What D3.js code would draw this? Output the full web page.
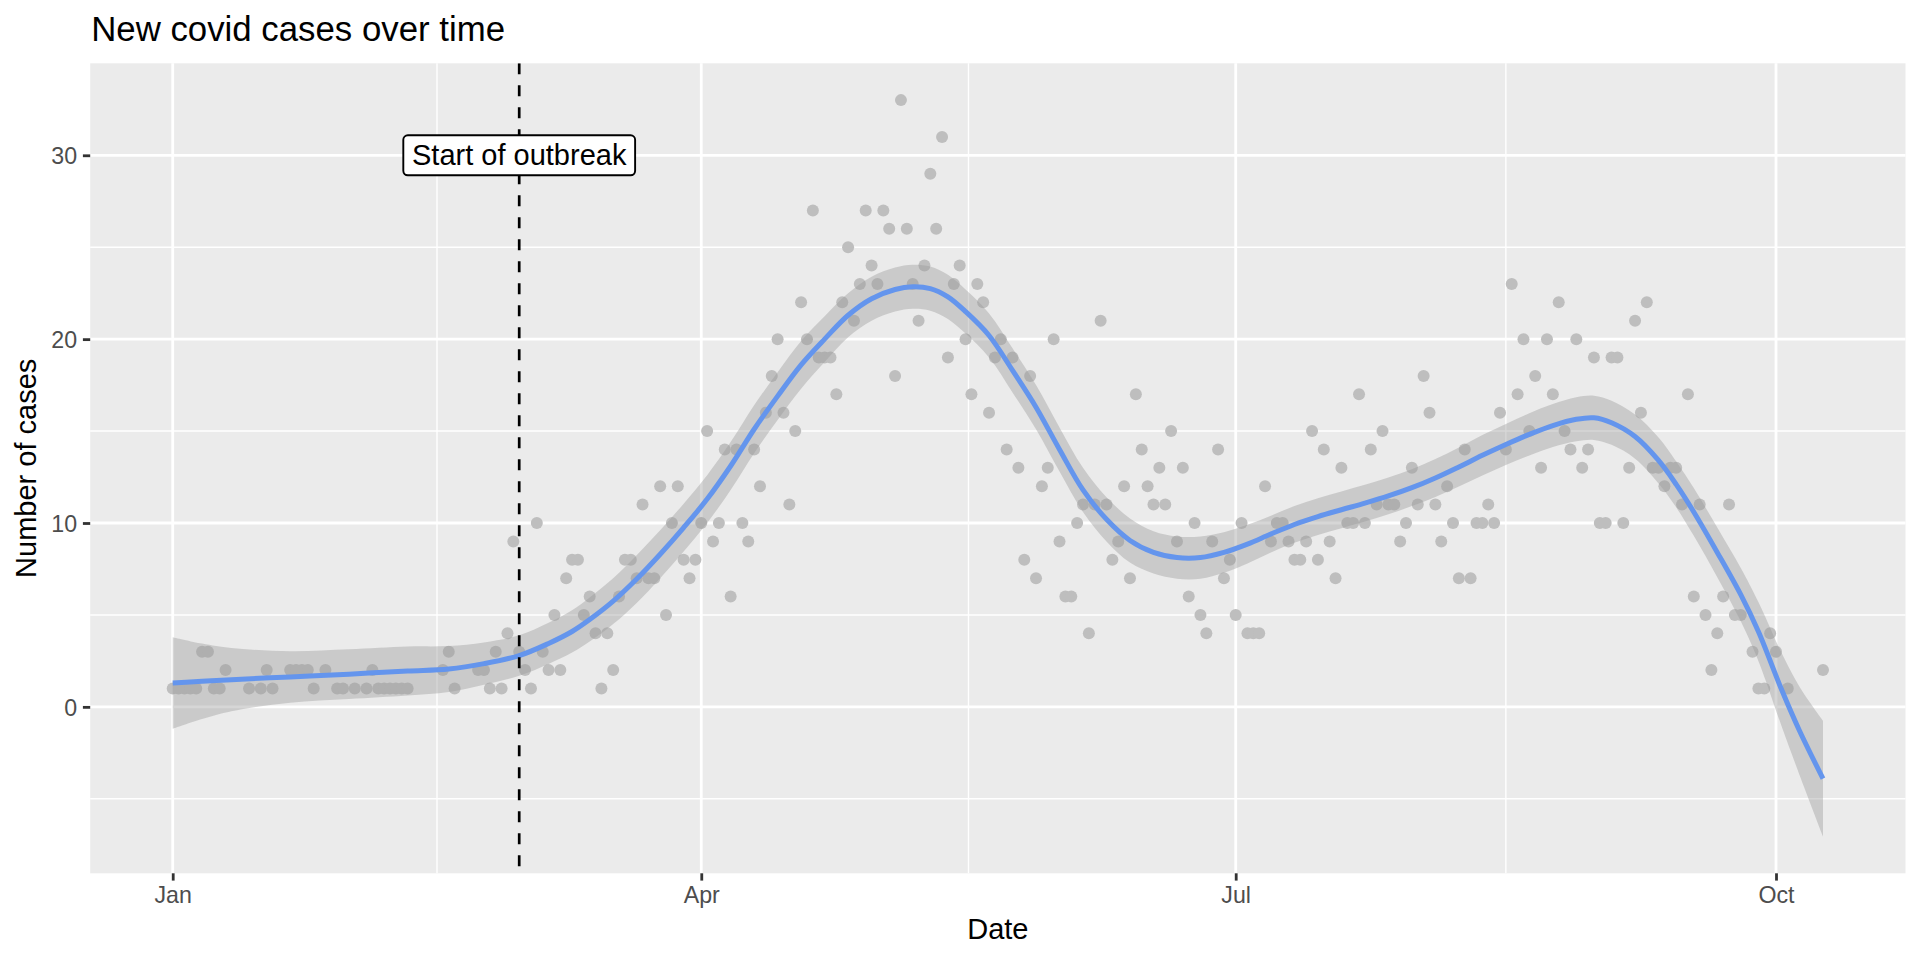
<!DOCTYPE html>
<html><head><meta charset="utf-8">
<script src="https://cdn.jsdelivr.net/npm/d3@7"></script>
<style>
body{margin:0;background:#fff;}
svg{display:block;font-family:"Liberation Sans",Arial,Helvetica,sans-serif;}
</style></head><body><svg id="chart" width="1920" height="960"></svg>
<script>
// ---------------- data ----------------
const startDate = "2021-01-01";
const dayOffsets = [0,1,2,3,4,5,6,7,8,9,13,15,16,17,20,21,22,23,24,26,28,29,31,33,34,35,36,37,38,39,40,46,47,48,
52,53,54,55,56,57,58,59,60,61,62,63,64,65,66,67,68,69,70,71,72,73,74,75,76,77,78,79,80,81,82,83,84,85,86,87,88,89,90,91,92,93,94,95,96,97,98,
99,100,101,102,103,104,105,106,107,108,109,110,111,112,113,114,115,116,117,118,119,120,121,122,123,124,125,126,127,128,129,130,131,132,133,134,135,136,137,138,139,140,141,
142,143,144,145,146,147,148,149,150,151,152,153,154,155,156,157,158,159,160,161,162,163,164,165,166,167,168,169,170,171,172,173,174,175,176,177,178,179,180,181,182,
183,184,185,186,187,188,189,190,191,192,193,194,195,196,197,198,199,200,201,202,203,204,205,206,207,208,209,210,211,212,213,214,215,216,217,218,219,220,221,222,
223,224,225,226,227,228,229,230,231,232,233,234,235,236,237,238,239,240,241,242,243,244,245,246,247,248,249,250,251,252,253,254,255,256,257,258,259,260,261,262,263,264,
265,266,267,269,270,271,272,273,275,281];
const cases = [1,1,1,1,1,3,3,1,1,2,1,1,2,1,2,2,2,2,1,2,1,1,1,1,2,1,1,1,1,1,1,2,3,1,
2,2,1,3,1,4,9,3,2,1,10,3,2,5,2,7,8,8,5,6,4,1,4,2,6,8,8,7,11,7,7,12,5,10,12,8,7,8,10,15,9,10,14,6,14,10,9,
14,12,16,18,20,16,11,15,22,20,27,19,19,19,17,22,25,21,23,27,24,23,27,26,18,33,26,23,21,24,29,26,31,19,23,24,20,17,23,22,16,19,20,
14,19,13,8,18,7,12,13,20,9,6,6,10,11,4,11,21,11,8,9,12,7,17,14,12,11,13,11,15,9,13,6,10,5,4,9,14,7,8,5,10,
4,4,4,12,9,10,10,9,8,8,9,15,8,14,9,7,13,10,10,17,10,14,11,15,11,11,9,10,13,11,18,16,11,9,12,10,7,14,7,10,
10,11,10,16,14,23,17,20,15,18,13,20,17,22,15,14,20,13,14,19,10,10,19,19,10,13,21,16,22,13,13,12,13,13,11,17,6,11,5,2,4,6,
11,5,5,3,1,1,4,3,1,2];

// loess fit: day offset, fitted value, half-width of the confidence band
const smoothDays = [0,5,10,20,30,40,47,53,59,64,68,71,75,79,83,87,91,95,99,103,107,111,115,119,123,126,129,132,135,139,143,147,151,155,159,163,167,171,175,179,183,187,191,195,199,203,207,211,215,219,223,227,231,235,239,242,245,249,253,256,259,263,267,270,274,277,281];
const smoothFit = [1.30,1.39,1.48,1.63,1.78,1.95,2.06,2.35,2.79,3.45,4.1,4.75,5.75,6.95,8.3,9.75,11.3,13.1,15.1,16.9,18.6,20.0,21.3,22.2,22.7,22.85,22.75,22.3,21.5,20.2,18.3,16.3,14.0,11.8,10.2,9.05,8.4,8.12,8.12,8.4,8.85,9.4,9.92,10.35,10.72,11.08,11.47,11.92,12.45,13.05,13.68,14.27,14.82,15.3,15.64,15.72,15.45,14.7,13.4,12.1,10.6,8.4,6.1,4.1,0.9,-1.3,-3.9];
const smoothHalf = [2.49,2.05,1.72,1.4,1.35,1.33,1.25,1.15,1.1,1.12,1.15,1.2,1.25,1.3,1.3,1.3,1.3,1.3,1.3,1.3,1.3,1.25,1.2,1.2,1.2,1.2,1.2,1.2,1.2,1.2,1.2,1.2,1.2,1.2,1.2,1.2,1.15,1.15,1.15,1.1,1.05,1.0,1.0,1.0,1.0,1.0,1.0,1.0,1.03,1.06,1.1,1.12,1.15,1.17,1.2,1.2,1.2,1.2,1.25,1.25,1.3,1.35,1.45,1.6,2.0,2.4,3.15];

const xTickDates = ["2021-01-01","2021-04-01","2021-07-01","2021-10-01"];
const xTickLabels = ["Jan","Apr","Jul","Oct"];
const xMinorDates = ["2021-02-15","2021-05-16T12:00","2021-08-16"];
const yTicks = [0,10,20,30];
const yMinor = [-5,5,15,25];
const outbreakDate = "2021-03-01";
const outbreakLabel = "Start of outbreak";
const outbreakLabelValue = 30;
const titleText = "New covid cases over time";
const xTitle = "Date";
const yTitle = "Number of cases";

// ---------------- layout ----------------
const W = 1920, H = 960;
const panel = {left: 90.2, right: 1905.5, top: 63.3, bottom: 873.3};
const parseD = s => s.includes("T") ? d3.utcParse("%Y-%m-%dT%H:%M")(s) : d3.utcParse("%Y-%m-%d")(s);
const t0 = parseD(startDate);
const pts = dayOffsets.map((d,i) => ({date: d3.utcDay.offset(t0, d), v: cases[i]}));
const sm = smoothDays.map((d,i) => ({date: d3.utcDay.offset(t0, d), fit: smoothFit[i], lo: smoothFit[i]-smoothHalf[i], hi: smoothFit[i]+smoothHalf[i]}));

const dMin = d3.min(pts, p => p.date), dMax = d3.max(pts, p => p.date);
const span = dMax - dMin;
const x = d3.scaleUtc()
  .domain([new Date(+dMin - 0.05*span), new Date(+dMax + 0.05*span)])
  .range([panel.left, panel.right]);
const yLo = Math.min(d3.min(pts, p => p.v), d3.min(sm, s => s.lo));
const yHi = Math.max(d3.max(pts, p => p.v), d3.max(sm, s => s.hi));
const yr = yHi - yLo;
const y = d3.scaleLinear().domain([yLo - 0.05*yr, yHi + 0.05*yr]).range([panel.bottom, panel.top]);

const svg = d3.select("#chart");
svg.append("rect").attr("width", W).attr("height", H).attr("fill", "#fff");

// panel
svg.append("rect").attr("x", panel.left).attr("y", panel.top)
  .attr("width", panel.right - panel.left).attr("height", panel.bottom - panel.top)
  .attr("fill", "#EBEBEB");

const grid = svg.append("g");
grid.selectAll(".ymin").data(yMinor).join("line")
  .attr("x1", panel.left).attr("x2", panel.right)
  .attr("y1", d => y(d)).attr("y2", d => y(d))
  .attr("stroke", "#fff").attr("stroke-width", 1.4);
grid.selectAll(".xmin").data(xMinorDates.map(parseD)).join("line")
  .attr("y1", panel.top).attr("y2", panel.bottom)
  .attr("x1", d => x(d)).attr("x2", d => x(d))
  .attr("stroke", "#fff").attr("stroke-width", 1.4);
grid.selectAll(".ymaj").data(yTicks).join("line")
  .attr("x1", panel.left).attr("x2", panel.right)
  .attr("y1", d => y(d)).attr("y2", d => y(d))
  .attr("stroke", "#fff").attr("stroke-width", 2.8);
grid.selectAll(".xmaj").data(xTickDates.map(parseD)).join("line")
  .attr("y1", panel.top).attr("y2", panel.bottom)
  .attr("x1", d => x(d)).attr("x2", d => x(d))
  .attr("stroke", "#fff").attr("stroke-width", 2.8);

// clip to panel
svg.append("clipPath").attr("id", "clip").append("rect")
  .attr("x", panel.left).attr("y", panel.top)
  .attr("width", panel.right - panel.left).attr("height", panel.bottom - panel.top);
const plot = svg.append("g").attr("clip-path", "url(#clip)");

// points
plot.selectAll("circle").data(pts).join("circle")
  .attr("cx", p => x(p.date)).attr("cy", p => y(p.v)).attr("r", 6)
  .attr("fill", "#BEBEBE");

// ribbon + smooth line
const curve = d3.curveCatmullRom.alpha(0.5);
plot.append("path").datum(sm)
  .attr("d", d3.area().x(s => x(s.date)).y0(s => y(s.lo)).y1(s => y(s.hi)).curve(curve))
  .attr("fill", "#999999").attr("fill-opacity", 0.4);
plot.append("path").datum(sm)
  .attr("d", d3.line().x(s => x(s.date)).y(s => y(s.fit)).curve(curve))
  .attr("fill", "none").attr("stroke", "#6495ED").attr("stroke-width", 5);

// vline
const xo = x(parseD(outbreakDate));
plot.append("line").attr("x1", xo).attr("x2", xo).attr("y1", panel.top).attr("y2", panel.bottom)
  .attr("stroke", "#000").attr("stroke-width", 2.7).attr("stroke-dasharray", "11,11");

// label
const lab = svg.append("g");
const lt = lab.append("text").attr("x", xo).attr("y", y(outbreakLabelValue))
  .attr("text-anchor", "middle").attr("dy", "0.35em")
  .attr("font-size", 29).attr("fill", "#000").text(outbreakLabel);
const tw = lt.node().getComputedTextLength();
const pad = 8.7;
lab.insert("rect", "text")
  .attr("x", xo - tw/2 - pad).attr("y", y(outbreakLabelValue) - 20)
  .attr("width", tw + 2*pad).attr("height", 40)
  .attr("rx", 4.5).attr("ry", 4.5)
  .attr("fill", "#fff").attr("stroke", "#000").attr("stroke-width", 1.9);

// axes
const xAxis = d3.axisBottom(x).tickValues(xTickDates.map(parseD))
  .tickFormat((d,i) => xTickLabels[i]).tickSize(7.3).tickPadding(5.5);
const gx = svg.append("g").attr("transform", `translate(0,${panel.bottom})`).call(xAxis);
const yAxis = d3.axisLeft(y).tickValues(yTicks).tickFormat(d3.format("d")).tickSize(7.3).tickPadding(5.8);
const gy = svg.append("g").attr("transform", `translate(${panel.left},0)`).call(yAxis);
[gx, gy].forEach(g => {
  g.select(".domain").remove();
  g.selectAll(".tick line").attr("stroke", "#333333").attr("stroke-width", 2.8);
  g.selectAll(".tick text").attr("fill", "#4D4D4D").attr("font-size", 23.2)
    .attr("font-family", '"Liberation Sans",Arial,Helvetica,sans-serif');
});
gx.selectAll(".tick text").attr("dy", null).attr("y", 30.0);
gy.selectAll(".tick text").attr("dy", "0.36em");

// titles
svg.append("text").attr("x", 91.2).attr("y", 40.7).attr("font-size", 34.8).attr("fill", "#000").text(titleText);
svg.append("text").attr("x", (panel.left + panel.right)/2).attr("y", 939).attr("text-anchor", "middle")
  .attr("font-size", 29).attr("fill", "#000").text(xTitle);
svg.append("text").attr("transform", `translate(35.5,${(panel.top + panel.bottom)/2}) rotate(-90)`)
  .attr("text-anchor", "middle").attr("font-size", 29).attr("fill", "#000").text(yTitle);
</script></body></html>
